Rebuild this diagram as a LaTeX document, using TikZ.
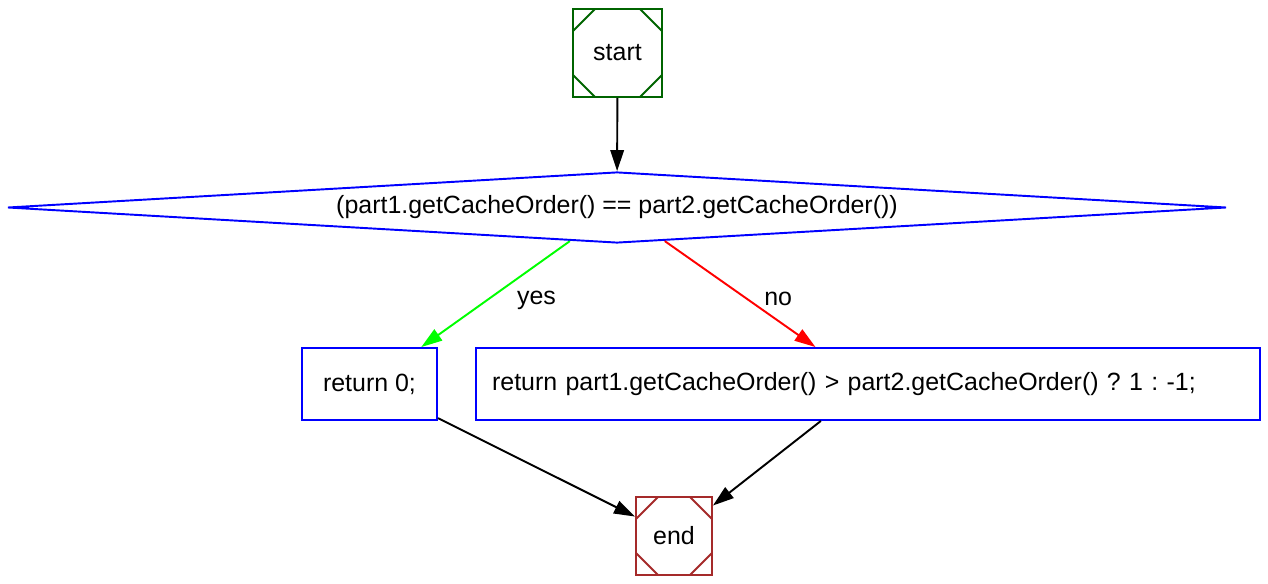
\documentclass[tikz,border=0pt]{standalone}
\usepackage{fontspec}
\setmainfont{Liberation Sans}
\usetikzlibrary{arrows.meta,shapes.geometric}
\definecolor{startgreen}{RGB}{0,100,0}
\definecolor{endbrown}{RGB}{165,42,42}
\frenchspacing
\begin{document}
\begin{tikzpicture}[x=0.02cm,y=-0.02cm,
      font=\fontsize{14.2}{17}\selectfont,
      msq/.style={draw=#1,line width=1.1pt,minimum width=1.6cm,inner sep=0,
        path picture={
          \foreach \a/\dx/\dy in {north west/1/-1,north east/-1/-1,south west/1/1,south east/-1/1}
            \draw[#1,line width=1.1pt] ([xshift=\dx*0.44cm]path picture bounding box.\a)
              -- ([yshift=\dy*0.44cm]path picture bounding box.\a);}},
      cond/.style={diamond,draw=blue,line width=1.1pt,inner sep=0,aspect=17.2,
        minimum width=24.38cm,minimum height=1.42cm},
      stmt/.style={rectangle,draw=blue,line width=1.1pt,minimum height=1.44cm},
      flow/.style={-{Triangle[length=0.42cm,width=0.27cm]},line width=1.1pt},
      lbl/.style={inner sep=1pt,text=black} ]
      \useasboundingbox (0,0) rectangle (1268,584);

      % nodes
      \node[msq=startgreen,minimum width=1.78cm,minimum height=1.76cm] (start) at (617.5,53) {start};
      \node[cond] (test) at (617,207.5) {(part1.getCacheOrder() == part2.getCacheOrder())};
      \node[stmt,minimum width=2.7cm] (ret0) at (369.5,384) {return 0;};
      \node[stmt,text width=15.04cm,inner xsep=0.32cm,align=left] (retcmp) at (868,384)
        {return part1.getCacheOrder() > part2.getCacheOrder() ? 1 : -1;};
      \node[msq=endbrown,minimum width=1.52cm,minimum height=1.56cm] (end) at (674,536) {end};

      % edges
      \draw[flow] (start) -- (test);
      \draw[flow,green] (test) -- node[lbl,xshift=0.82cm,yshift=-0.12cm] {yes} (ret0);
      \draw[flow,red] (test) -- node[lbl,xshift=0.76cm,yshift=-0.1cm] {no} (retcmp);
      \draw[flow] (ret0) -- (end);
      \draw[flow] (retcmp) -- (end);
    \end{tikzpicture}
\end{document}
